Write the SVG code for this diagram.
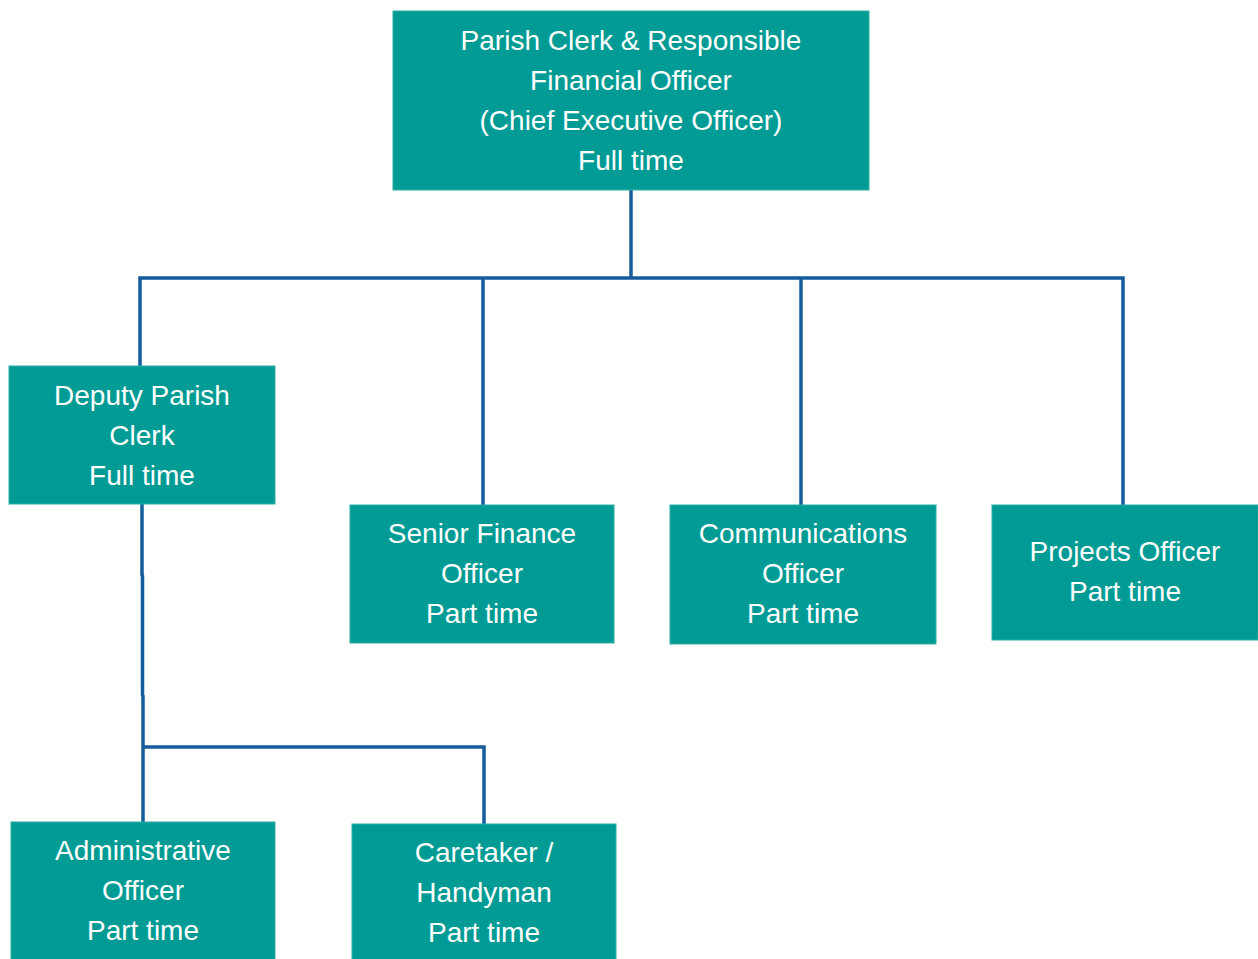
<svg xmlns="http://www.w3.org/2000/svg" width="1258" height="959" viewBox="0 0 1258 959">
<style>
.box{fill:#009B94;stroke:#2AAFA8;stroke-width:1}
.t{font-family:"Liberation Sans",Arial,sans-serif;font-size:28px;fill:#ffffff;text-anchor:middle}
.c{fill:none;stroke:#145C9B;stroke-width:3.5}
</style>
<rect width="1258" height="959" fill="#ffffff"/>
<g id="connectors">
<path class="c" d="M631 190V278M140 366V278H1123V505M483 278V505M801 278V505"/>
<path class="c" d="M142 504V575L142.5 576V695L143 696V822M143 747H484V824"/>
</g>
<g id="n-clerk">
<rect class="box" x="393" y="11" width="476" height="179"/>
<text class="t" x="631" y="50">Parish Clerk &amp; Responsible</text>
<text class="t" x="631" y="90">Financial Officer</text>
<text class="t" x="631" y="130">(Chief Executive Officer)</text>
<text class="t" x="631" y="170">Full time</text>
</g>
<g id="n-deputy">
<rect class="box" x="9" y="366" width="266" height="138"/>
<text class="t" x="142" y="405">Deputy Parish</text>
<text class="t" x="142" y="445">Clerk</text>
<text class="t" x="142" y="485">Full time</text>
</g>
<g id="n-finance">
<rect class="box" x="350" y="505" width="264" height="138"/>
<text class="t" x="482" y="543">Senior Finance</text>
<text class="t" x="482" y="583">Officer</text>
<text class="t" x="482" y="623">Part time</text>
</g>
<g id="n-comms">
<rect class="box" x="670" y="505" width="266" height="139"/>
<text class="t" x="803" y="543">Communications</text>
<text class="t" x="803" y="583">Officer</text>
<text class="t" x="803" y="623">Part time</text>
</g>
<g id="n-projects">
<rect class="box" x="992" y="505" width="266" height="135"/>
<text class="t" x="1125" y="561">Projects Officer</text>
<text class="t" x="1125" y="601">Part time</text>
</g>
<g id="n-admin">
<rect class="box" x="11" y="822" width="264" height="140"/>
<text class="t" x="143" y="860">Administrative</text>
<text class="t" x="143" y="900">Officer</text>
<text class="t" x="143" y="940">Part time</text>
</g>
<g id="n-caretaker">
<rect class="box" x="352" y="824" width="264" height="140"/>
<text class="t" x="484" y="862">Caretaker /</text>
<text class="t" x="484" y="902">Handyman</text>
<text class="t" x="484" y="942">Part time</text>
</g>
</svg>
